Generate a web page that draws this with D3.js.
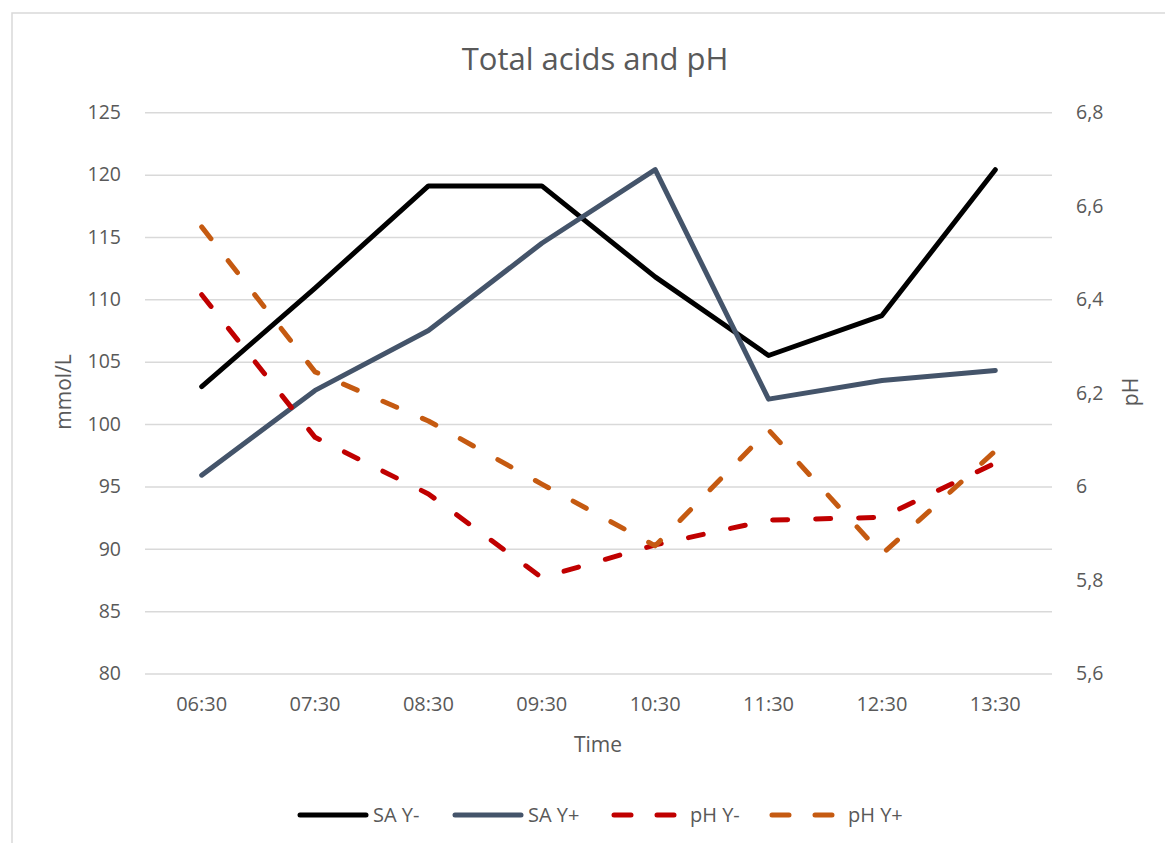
<!DOCTYPE html>
<html>
<head>
<meta charset="utf-8">
<script src="https://cdn.jsdelivr.net/npm/d3@7"></script>
<style>
  html, body { margin: 0; padding: 0; background: #fff; }
  svg { display: block; }
  svg text { font-family: "Segoe UI", "Open Sans", "Noto Sans", sans-serif; }
</style>
</head>
<body>
<svg id="chart" width="1165" height="843"></svg>
<script>
// Sampling times (category axis)
const times = ["06:30", "07:30", "08:30", "09:30", "10:30", "11:30", "12:30", "13:30"];

// Total acids, mmol/L (left axis)
const saYminus = [103.0, 110.9, 119.1, 119.1, 111.8, 105.5, 108.7, 120.4];
const saYplus  = [95.9, 102.7, 107.5, 114.5, 120.4, 102.0, 103.5, 104.3];

// pH (right axis)
const phYminus = [6.41, 6.105, 5.984, 5.805, 5.875, 5.928, 5.934, 6.05];
const phYplus  = [6.555, 6.245, 6.14, 6.005, 5.873, 6.121, 5.855, 6.076];

// Axis ticks
const leftTicks  = [80, 85, 90, 95, 100, 105, 110, 115, 120, 125];
const rightTicks = [5.6, 5.8, 6.0, 6.2, 6.4, 6.6, 6.8];

const series = [
  { name: "SA Y-", values: saYminus, axis: "left",  color: "#000000", dashed: false },
  { name: "SA Y+", values: saYplus,  axis: "left",  color: "#44546A", dashed: false },
  { name: "pH Y-", values: phYminus, axis: "right", color: "#C00000", dashed: true },
  { name: "pH Y+", values: phYplus,  axis: "right", color: "#C55A11", dashed: true }
];

const svg = d3.select("#chart");
const plot = { left: 145, right: 1052, top: 112.3, bottom: 673.5 };
const textColor = "#595959";
const gridColor = "#d9d9d9";
const fontFamily = '"Segoe UI", "Open Sans", "Noto Sans", sans-serif';

// Outer chart border
svg.append("rect")
  .attr("x", 12).attr("y", 13)
  .attr("width", 1165).attr("height", 843)
  .attr("fill", "none").attr("stroke", "#d9d9d9").attr("stroke-width", 1.5);

const x = d3.scaleBand().domain(times).range([plot.left, plot.right]);
const yL = d3.scaleLinear().domain([80, 125]).range([plot.bottom, plot.top]);
const yR = d3.scaleLinear().domain([5.6, 6.8]).range([plot.bottom, plot.top]);
const cx = t => x(t) + x.bandwidth() / 2;

function styleTicks(g, size) {
  g.attr("font-family", fontFamily).attr("font-size", size);
  g.selectAll(".tick text").attr("fill", textColor);
}

// Gridlines and left axis
const left = svg.append("g")
  .attr("transform", `translate(${plot.left},0)`)
  .call(d3.axisLeft(yL).tickValues(leftTicks).tickSize(-(plot.right - plot.left)).tickPadding(24));
left.select(".domain").remove();
left.selectAll(".tick line").attr("stroke", gridColor).attr("stroke-width", 1.5);
styleTicks(left, 19.5);

// Right axis
const fmtR = v => String(+v.toFixed(1)).replace(".", ",");
const right = svg.append("g")
  .attr("transform", `translate(${plot.right},0)`)
  .call(d3.axisRight(yR).tickValues(rightTicks).tickSize(0).tickPadding(24).tickFormat(fmtR));
right.select(".domain").remove();
styleTicks(right, 19.5);

// Category axis
const bottom = svg.append("g")
  .attr("transform", `translate(0,${plot.bottom})`)
  .call(d3.axisBottom(x).tickSize(0).tickPadding(23));
bottom.select(".domain").remove();
styleTicks(bottom, 20);

// Title and axis titles
svg.append("text").attr("x", 595).attr("y", 70).attr("text-anchor", "middle")
  .attr("fill", textColor).attr("font-size", 31).text("Total acids and pH");
svg.append("text").attr("x", 598).attr("y", 752).attr("text-anchor", "middle")
  .attr("fill", textColor).attr("font-size", 21).text("Time");
svg.append("text").attr("transform", "translate(71,392) rotate(-90)").attr("text-anchor", "middle")
  .attr("fill", textColor).attr("font-size", 21).text("mmol/L");
svg.append("text").attr("transform", "translate(1138,392) rotate(-90)").attr("text-anchor", "middle")
  .attr("fill", textColor).attr("font-size", 21).text("pH");

// Data lines
const dash = "15 28";
series.forEach(s => {
  const ys = s.axis === "left" ? yL : yR;
  const line = d3.line().x((d, i) => cx(times[i])).y(d => ys(d));
  svg.append("path")
    .datum(s.values)
    .attr("d", line)
    .attr("fill", "none")
    .attr("stroke", s.color)
    .attr("stroke-width", 5)
    .attr("stroke-linejoin", "round")
    .attr("stroke-linecap", "round")
    .attr("stroke-dasharray", s.dashed ? dash : null);
});

// Legend
const legendX = [300, 455, 614, 772];
const legend = svg.append("g");
series.forEach((s, i) => {
  const g = legend.append("g").attr("transform", `translate(${legendX[i]},815)`);
  g.append("line")
    .attr("x1", 0).attr("x2", s.dashed ? 61 : 66)
    .attr("y1", 0).attr("y2", 0)
    .attr("stroke", s.color).attr("stroke-width", 5)
    .attr("stroke-linecap", "round")
    .attr("stroke-dasharray", s.dashed ? "17 26" : null);
  g.append("text")
    .attr("x", s.dashed ? 76 : 73).attr("y", 7)
    .attr("fill", textColor).attr("font-size", 20)
    .text(s.name);
});
</script>
</body>
</html>
